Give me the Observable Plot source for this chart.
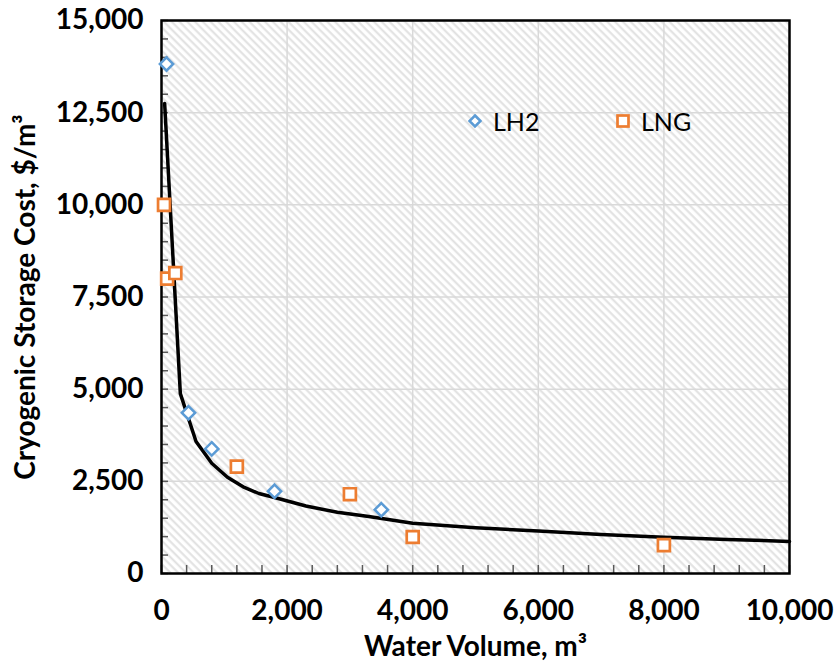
<!DOCTYPE html>
<html>
<head>
<meta charset="utf-8">
<script src="https://cdn.jsdelivr.net/npm/d3@7"></script>
<script src="https://cdn.jsdelivr.net/npm/@observablehq/plot@0.6"></script>
<style>
  body { margin: 0; background: #fff; }
  #chart { position: relative; width: 835px; height: 663px; font-family: Lato, "Open Sans", sans-serif; }
  .key { position: absolute; display: flex; align-items: center; font-size: 25px; color: #000; }
  .key svg { margin-right: 11px; }
</style>
</head>
<body>
<div id="chart"></div>
<script>
// LH2 cryogenic storage observations
const lh2Volume = [80, 430, 800, 1800, 3500];
const lh2Cost = [13820, 4360, 3380, 2230, 1730];

// LNG cryogenic storage observations
const lngVolume = [40, 90, 220, 1200, 3000, 4000, 8000];
const lngCost = [10000, 8000, 8150, 2900, 2150, 990, 770];

// Fitted cost curve
const fitVolume = [50, 300, 550, 800, 1050, 1300, 1550, 1800, 2300, 2800, 3300, 4000, 5000, 6000, 7000, 8000, 9000, 10000];
const fitCost = [12750, 4880, 3580, 2990, 2610, 2350, 2170, 2060, 1830, 1660, 1545, 1365, 1240, 1150, 1060, 985, 925, 870];

// Axis ticks
const xTicks = [0, 2000, 4000, 6000, 8000, 10000];
const yTicks = [0, 2500, 5000, 7500, 10000, 12500, 15000];
const xMinor = d3.range(0, 10001, 400);
const yMinor = d3.range(0, 15001, 500);

const lh2 = lh2Volume.map((v, i) => ({volume: v, cost: lh2Cost[i]}));
const lng = lngVolume.map((v, i) => ({volume: v, cost: lngCost[i]}));
const fit = fitVolume.map((v, i) => ({volume: v, cost: fitCost[i]}));

const fmt = d3.format(",");
const W = 835, H = 663, ML = 161, MR = 46, MT = 20, MB = 90;
const plotW = W - ML - MR, plotH = H - MT - MB;

const chart = Plot.plot({
  width: W,
  height: H,
  marginLeft: ML,
  marginRight: MR,
  marginTop: MT,
  marginBottom: MB,
  style: {fontFamily: "Lato, 'Open Sans', sans-serif", fontWeight: "bold", fontSize: "28px", color: "#000", background: "transparent", overflow: "visible"},
  x: {
    domain: [0, 10000], ticks: xTicks, tickFormat: fmt, tickSize: 0, tickPadding: 27,
    label: "Water Volume, m³", labelAnchor: "center", labelOffset: 82, labelArrow: "none"
  },
  y: {
    domain: [0, 15000], ticks: yTicks, tickFormat: fmt, tickSize: 0, tickPadding: 18,
    label: "Cryogenic Storage Cost, $/m³", labelAnchor: "center", labelOffset: 146, labelArrow: "none"
  },
  marks: [
    Plot.frame({fill: "url(#hatch)", stroke: null}),
    Plot.gridX(xTicks, {stroke: "#d9d9d9", strokeOpacity: 1, strokeWidth: 1.5}),
    Plot.gridY(yTicks, {stroke: "#d9d9d9", strokeOpacity: 1, strokeWidth: 1.5}),
    Plot.tickY(yMinor, {y: d => d, stroke: "#595959", strokeWidth: 1.5, insetRight: plotW - 7}),
    Plot.tickX(xMinor, {x: d => d, stroke: "#595959", strokeWidth: 1.5, insetTop: plotH - 8}),
    Plot.frame({stroke: "#000", strokeWidth: 2.5}),
    Plot.line(fit, {x: "volume", y: "cost", stroke: "#000", strokeWidth: 3.5}),
    Plot.dot(lh2, {x: "volume", y: "cost", symbol: "diamond2", r: 6, stroke: "#5b9bd5", strokeWidth: 2.5, fill: "#fff"}),
    Plot.dot(lng, {x: "volume", y: "cost", symbol: "square2", r: 7.6, stroke: "#ed7d31", strokeWidth: 2.7, fill: "#fff"})
  ]
});

// Diagonal hatch used as the plot background
const svgNS = "http://www.w3.org/2000/svg";
const defs = document.createElementNS(svgNS, "defs");
defs.innerHTML = `
  <pattern id="hatch" width="5.5" height="5.5" patternUnits="userSpaceOnUse" patternTransform="rotate(-45)">
    <rect width="5.5" height="5.5" fill="#ffffff"></rect>
    <line x1="1.5" y1="0" x2="1.5" y2="5.5" stroke="#e0e0e0" stroke-width="2"></line>
  </pattern>`;
chart.insertBefore(defs, chart.firstChild);

const container = document.getElementById("chart");
container.appendChild(chart);

// In-plot key
const keys = [
  {label: "LH2", x: 468, shape: '<path d="M7,1.5 L12.5,7 L7,12.5 L1.5,7 Z" fill="#fff" stroke="#5b9bd5" stroke-width="2.5"/>'},
  {label: "LNG", x: 616, shape: '<rect x="1.5" y="1.5" width="11" height="11" fill="#fff" stroke="#ed7d31" stroke-width="2.7"/>'}
];
for (const k of keys) {
  const div = document.createElement("div");
  div.className = "key";
  div.style.left = k.x + "px";
  div.style.top = "106px";
  div.innerHTML = `<svg width="14" height="14" viewBox="0 0 14 14">${k.shape}</svg><span>${k.label}</span>`;
  container.appendChild(div);
}
</script>
</body>
</html>
